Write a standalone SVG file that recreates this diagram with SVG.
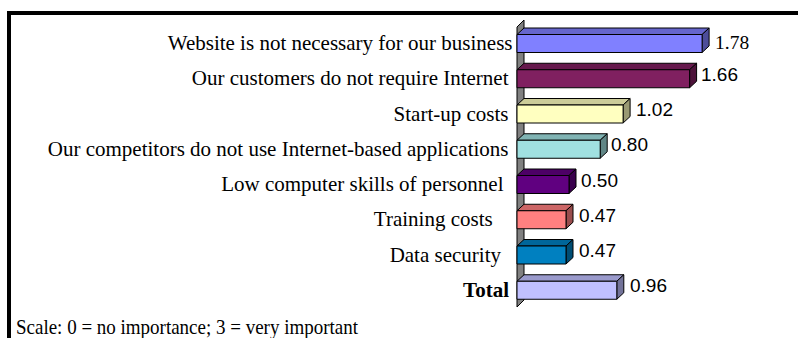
<svg xmlns="http://www.w3.org/2000/svg" width="798" height="338" viewBox="0 0 798 338">
<style>
.lbl{font-family:"Liberation Serif","Times New Roman",serif;font-size:21px;fill:#000;text-anchor:end}
.val{font-family:"Liberation Sans",Arial,sans-serif;font-size:19px;fill:#000}
.vals{font-family:"Liberation Serif","Times New Roman",serif;font-size:19.5px;fill:#000}
.bar rect,.bar polygon{stroke:#000;stroke-width:1;stroke-linejoin:round}
</style>
<rect x="0" y="0" width="798" height="338" fill="#fff"/>
<g id="frame">
<rect x="7" y="11" width="791" height="4" fill="#000"/>
<rect x="7" y="11" width="4" height="327" fill="#000"/>
</g>
<g id="wall">
<polygon points="517,27 524,20 524,300 517,307" fill="#808080" stroke="#000" stroke-width="1"/>
</g>
<g id="bar1" class="bar">
<polygon points="517,34.5 524,28 709.1,28 702.1,34.5" fill="#6666CC"/>
<polygon points="702.1,34.5 709.1,28 709.1,46 702.1,52.5" fill="#4D4D99"/>
<rect x="517" y="34.5" width="185.1" height="18" fill="#8080FF"/>
<text class="lbl" x="512.5" y="50">Website is not necessary for our business</text>
<text class="vals" x="715" y="49">1.78</text>
</g>
<g id="bar2" class="bar">
<polygon points="517,69.75 524,63.25 696.6,63.25 689.6,69.75" fill="#66194D"/>
<polygon points="689.6,69.75 696.6,63.25 696.6,81.25 689.6,87.75" fill="#4D133A"/>
<rect x="517" y="69.75" width="172.6" height="18" fill="#802060"/>
<text class="lbl" x="508.5" y="85.25">Our customers do not require Internet</text>
<text class="val" x="701" y="81">1.66</text>
</g>
<g id="bar3" class="bar">
<polygon points="517,105 524,98.5 630.1,98.5 623.1,105" fill="#CCCC99"/>
<polygon points="623.1,105 630.1,98.5 630.1,116.5 623.1,123" fill="#999973"/>
<rect x="517" y="105" width="106.1" height="18" fill="#FFFFC0"/>
<text class="lbl" x="508.5" y="120.5">Start-up costs</text>
<text class="val" x="636" y="116">1.02</text>
</g>
<g id="bar4" class="bar">
<polygon points="517,140.25 524,133.75 607.2,133.75 600.2,140.25" fill="#80B3B3"/>
<polygon points="600.2,140.25 607.2,133.75 607.2,151.75 600.2,158.25" fill="#608686"/>
<rect x="517" y="140.25" width="83.2" height="18" fill="#A0E0E0"/>
<text class="lbl" x="508.5" y="155.75">Our competitors do not use Internet-based applications</text>
<text class="val" x="611" y="151">0.80</text>
</g>
<g id="bar5" class="bar">
<polygon points="517,175.5 524,169 576,169 569,175.5" fill="#4D0066"/>
<polygon points="569,175.5 576,169 576,187 569,193.5" fill="#3A004D"/>
<rect x="517" y="175.5" width="52" height="18" fill="#600080"/>
<text class="lbl" x="503.5" y="191">Low computer skills of personnel</text>
<text class="val" x="581" y="186.5">0.50</text>
</g>
<g id="bar6" class="bar">
<polygon points="517,210.75 524,204.25 573,204.25 566,210.75" fill="#CC6666"/>
<polygon points="566,210.75 573,204.25 573,222.25 566,228.75" fill="#994D4D"/>
<rect x="517" y="210.75" width="49" height="18" fill="#FF8080"/>
<text class="lbl" x="492.7" y="226.25">Training costs</text>
<text class="val" x="579" y="221.5">0.47</text>
</g>
<g id="bar7" class="bar">
<polygon points="517,246 524,239.5 573,239.5 566,246" fill="#00669A"/>
<polygon points="566,246 573,239.5 573,257.5 566,264" fill="#004D73"/>
<rect x="517" y="246" width="49" height="18" fill="#0080C0"/>
<text class="lbl" x="501" y="261.5">Data security</text>
<text class="val" x="579" y="257">0.47</text>
</g>
<g id="bar8" class="bar">
<polygon points="517,281.25 524,274.75 623.8,274.75 616.8,281.25" fill="#9A9ACC"/>
<polygon points="616.8,281.25 623.8,274.75 623.8,292.75 616.8,299.25" fill="#737399"/>
<rect x="517" y="281.25" width="99.8" height="18" fill="#C0C0FF"/>
<text class="lbl" x="509" y="296.75" font-weight="bold">Total</text>
<text class="val" x="630" y="292">0.96</text>
</g>
<g id="note">
<text x="16" y="333.5" textLength="342" lengthAdjust="spacingAndGlyphs" style="font-family:'Liberation Serif','Times New Roman',serif;font-size:21px;fill:#000">Scale: 0 = no importance; 3 = very important</text>
</g>
<g id="connectors"></g>
</svg>
